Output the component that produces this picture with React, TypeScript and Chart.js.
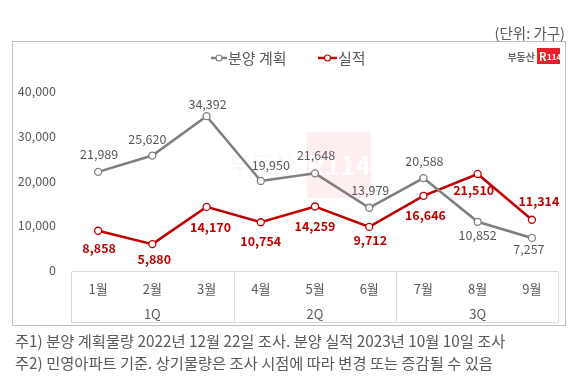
import React, { useEffect, useRef } from "react";
import { Chart, registerables } from "chart.js";

Chart.register(...registerables);

const months = ["1월", "2월", "3월", "4월", "5월", "6월", "7월", "8월", "9월"];
const quarters = ["1Q", "2Q", "3Q"];
const planValues = [21989, 25620, 34392, 19950, 21648, 13979, 20588, 10852, 7257];
const actualValues = [8858, 5880, 14170, 10754, 14259, 9712, 16646, 21510, 11314];
const yTicks = [0, 10000, 20000, 30000, 40000];
const seriesNames = ["분양 계획", "실적"];
const unitText = "(단위: 가구)";
const notes = [
  "주1) 분양 계획물량 2022년 12월 22일 조사. 분양 실적 2023년 10월 10일 조사",
  "주2) 민영아파트 기준. 상기물량은 조사 시점에 따라 변경 또는 증감될 수 있음",
];

const GRAY = "#7f7f7f";
const RED = "#c00000";
const TEXT = "#595959";
const FONT = '"Noto Sans CJK KR", "Noto Sans", sans-serif';

// label offsets (px) relative to each point
const planLabelOffsets = [[1, -18], [-5, -16], [1, -12], [10, -16], [1, -18], [1, -18], [1, -17], [0, 13], [-3, 11]];
const actualLabelOffsets = [[1, 18], [2, 15], [4, 20], [0, 19], [0, 20], [1, 13], [2, 19], [-4, 16], [7, -18]];

const fmt = (v: number) => v.toLocaleString("en-US");

const decorPlugin = {
  id: "decor",
  beforeDatasetsDraw(chart: any) {
    const ctx = chart.ctx;
    const xs = chart.scales.x;
    const area = chart.chartArea;
    ctx.save();
    // outer frame
    ctx.strokeStyle = "#bfbfbf";
    ctx.lineWidth = 1;
    ctx.strokeRect(12.5, 41.5, 553, 284);

    // watermark
    ctx.fillStyle = "rgba(236, 90, 100, 0.10)";
    ctx.fillRect(307, 132, 64, 66);
    ctx.fillStyle = "rgba(255,255,255,0.9)";
    ctx.font = `bold 26px ${FONT}`;
    ctx.textAlign = "center";
    ctx.textBaseline = "middle";
    ctx.fillText("R114", 339, 165);
    ctx.fillStyle = "rgba(200,200,200,0.12)";
    ctx.font = `bold 24px ${FONT}`;
    ctx.fillText("부동산", 262, 165);

    // category axis box
    const n = months.length;
    const step = xs.getPixelForValue(1) - xs.getPixelForValue(0);
    const left = Math.round(area.left) + 0.5;
    const right = Math.round(area.right) - 0.5;
    const top = Math.round(area.bottom) + 0.5;
    const bottom = 322.5;
    ctx.strokeStyle = "#d9d9d9";
    ctx.lineWidth = 1;
    ctx.beginPath();
    ctx.moveTo(left, top);
    ctx.lineTo(right, top);
    ctx.moveTo(left, bottom);
    ctx.lineTo(right, bottom);
    ctx.moveTo(left, top);
    ctx.lineTo(left, bottom);
    ctx.moveTo(right, top);
    ctx.lineTo(right, bottom);
    for (let q = 1; q < quarters.length; q++) {
      const bx = Math.round(xs.getPixelForValue(q * 3 - 1) + step / 2) + 0.5;
      ctx.moveTo(bx, top);
      ctx.lineTo(bx, bottom);
    }
    ctx.stroke();

    ctx.fillStyle = TEXT;
    ctx.font = `13px ${FONT}`;
    ctx.textAlign = "center";
    ctx.textBaseline = "middle";
    for (let i = 0; i < n; i++) {
      ctx.fillText(months[i], xs.getPixelForValue(i), 289);
    }
    quarters.forEach((q, qi) => {
      ctx.fillText(q, xs.getPixelForValue(qi * 3 + 1), 314);
    });

    // legend
    const ly = 58;
    const drawKey = (x0: number, x1: number, color: string, label: string, tx: number) => {
      ctx.strokeStyle = color;
      ctx.lineWidth = 2.5;
      ctx.beginPath();
      ctx.moveTo(x0, ly);
      ctx.lineTo(x1, ly);
      ctx.stroke();
      ctx.beginPath();
      ctx.arc((x0 + x1) / 2, ly, 3, 0, Math.PI * 2);
      ctx.fillStyle = "#fff";
      ctx.fill();
      ctx.lineWidth = 1.2;
      ctx.stroke();
      ctx.fillStyle = TEXT;
      ctx.font = `15px ${FONT}`;
      ctx.textAlign = "left";
      ctx.fillText(label, tx, ly);
    };
    drawKey(211, 227, GRAY, seriesNames[0], 228);
    drawKey(318, 337, RED, seriesNames[1], 338);

    // logo
    ctx.fillStyle = "#6b6b6b";
    ctx.font = `bold 10px ${FONT}`;
    ctx.textAlign = "right";
    ctx.fillText("부동산", 535, 57);
    ctx.fillStyle = "#e8202a";
    ctx.fillRect(537, 48, 23, 16);
    ctx.fillStyle = "#fff";
    ctx.textAlign = "left";
    ctx.font = `bold 11px ${FONT}`;
    ctx.fillText("R", 539, 56.5);
    ctx.font = `bold 8px ${FONT}`;
    ctx.fillText("114", 547, 56.5);
    ctx.restore();
  },
  afterDatasetsDraw(chart: any) {
    const ctx = chart.ctx;
    ctx.save();
    ctx.textAlign = "center";
    ctx.textBaseline = "middle";
    const drawLabels = (di: number, values: number[], offs: number[][], color: string, bold: boolean) => {
      const meta = chart.getDatasetMeta(di);
      ctx.fillStyle = color;
      ctx.font = `${bold ? "bold " : ""}12.5px ${FONT}`;
      meta.data.forEach((pt: any, i: number) => {
        ctx.fillText(fmt(values[i]), pt.x + offs[i][0], pt.y + offs[i][1]);
      });
    };
    drawLabels(0, planValues, planLabelOffsets, TEXT, false);
    drawLabels(1, actualValues, actualLabelOffsets, RED, true);
    ctx.restore();
  },
};

export default function App() {
  const ref = useRef<HTMLCanvasElement | null>(null);
  useEffect(() => {
    if (!ref.current) return;
    const chart = new Chart(ref.current, {
      type: "line",
      data: {
        labels: months,
        datasets: [
          {
            label: seriesNames[0],
            data: planValues,
            borderColor: GRAY,
            backgroundColor: "#fff",
            borderWidth: 2.5,
            pointRadius: 3.5,
            pointBorderWidth: 1.3,
            pointBackgroundColor: "#fff",
            pointBorderColor: GRAY,
            tension: 0,
          },
          {
            label: seriesNames[1],
            data: actualValues,
            borderColor: RED,
            backgroundColor: "#fff",
            borderWidth: 2.5,
            pointRadius: 3.5,
            pointBorderWidth: 1.3,
            pointBackgroundColor: "#fff",
            pointBorderColor: RED,
            tension: 0,
          },
        ],
      },
      options: {
        responsive: false,
        animation: false,
        devicePixelRatio: 1,
        layout: { padding: { top: 91, right: 21, bottom: 111.5, left: 0 } },
        plugins: { legend: { display: false }, tooltip: { enabled: false }, title: { display: false } },
        scales: {
          x: { display: false, offset: true },
          y: {
            min: yTicks[0],
            max: yTicks[yTicks.length - 1],
            afterFit: (s: any) => { s.width = 71; },
            afterBuildTicks: (s: any) => { s.ticks = yTicks.map((v) => ({ value: v })); },
            grid: { display: false, drawTicks: false },
            border: { display: false },
            ticks: {
              padding: 15,
              color: TEXT,
              font: { family: FONT, size: 12.5 },
              callback: (v: any) => fmt(Number(v)),
            },
          },
        },
      },
      plugins: [decorPlugin],
    });
    return () => chart.destroy();
  }, []);

  const textStyle: React.CSSProperties = {
    position: "absolute",
    fontFamily: FONT,
    fontSize: 14,
    color: TEXT,
    lineHeight: "20px",
    whiteSpace: "nowrap",
  };

  return (
    <div style={{ position: "absolute", left: 0, top: 0, width: 580, height: 382, background: "#fff", overflow: "hidden" }}>
      <canvas ref={ref} width={580} height={382} style={{ position: "absolute", left: 0, top: 0 }} />
      <div style={{ ...textStyle, fontSize: 14.5, right: 15, top: 23 }}>{unitText}</div>
      <div style={{ ...textStyle, fontSize: 15.3, left: 15, top: 330 }}>{notes[0]}</div>
      <div style={{ ...textStyle, fontSize: 15.3, left: 15, top: 352 }}>{notes[1]}</div>
    </div>
  );
}
